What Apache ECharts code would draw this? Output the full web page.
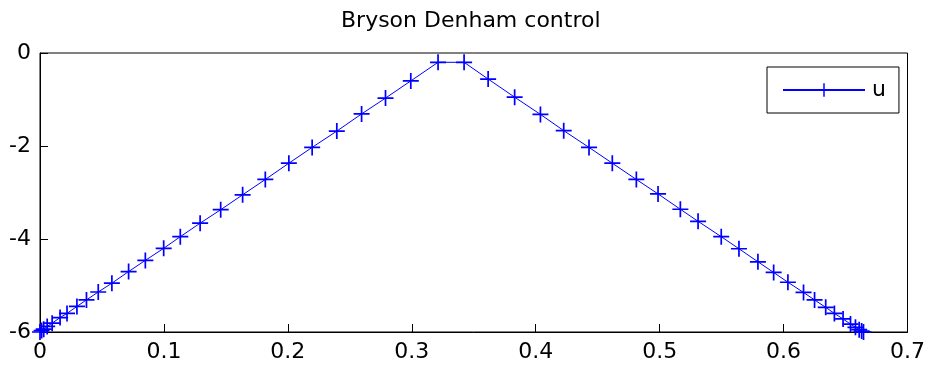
<!DOCTYPE html>
<html>
<head>
<meta charset="utf-8">
<script src="https://cdn.jsdelivr.net/npm/echarts@6/dist/echarts.min.js"></script>
<style>
  html, body { margin: 0; padding: 0; background: #fff; }
  #chart { width: 928px; height: 373px; }
</style>
</head>
<body>
<div id="chart"></div>
<script>
// Bryson–Denham control history u(t) at the collocation nodes
const tNodes = [
  0, 0.0013, 0.003, 0.0058, 0.0098, 0.0162, 0.0218, 0.0298, 0.0375, 0.047,
  0.058, 0.0715, 0.085, 0.0998, 0.1132, 0.1292, 0.1458, 0.1635, 0.1818, 0.2008,
  0.2196, 0.2395, 0.2595, 0.2788, 0.2992, 0.3212,
  0.3422, 0.3616, 0.383, 0.4038, 0.4226, 0.443, 0.4618, 0.4812, 0.4987, 0.5167,
  0.531, 0.5497, 0.564, 0.5793, 0.592, 0.6035, 0.6161, 0.625, 0.634, 0.641,
  0.648, 0.654, 0.658, 0.661, 0.663, 0.6645
];
const uValues = [
  -6.0, -5.97, -5.94, -5.88, -5.81, -5.69, -5.6, -5.45, -5.31, -5.14,
  -4.95, -4.7, -4.46, -4.2, -3.95, -3.66, -3.37, -3.05, -2.72, -2.37,
  -2.03, -1.68, -1.31, -0.97, -0.6, -0.2,
  -0.2, -0.56, -0.95, -1.32, -1.67, -2.03, -2.37, -2.72, -3.03, -3.36,
  -3.62, -3.95, -4.21, -4.49, -4.72, -4.93, -5.15, -5.31, -5.47, -5.6,
  -5.72, -5.83, -5.9, -5.95, -5.98, -6.0
];
const xTicks = { min: 0, max: 0.7, step: 0.1 };
const yTicks = { min: -6, max: 0, step: 2 };
const seriesName = 'u';
const titleText = 'Bryson Denham control';

const FONT = 'DejaVu Sans';
// "+" marker drawn as a filled cross outline
const plusPath = 'path://M-0.75,-7 H0.75 V-0.75 H7 V0.75 H0.75 V7 H-0.75 V0.75 H-7 V-0.75 H-0.75 Z';

const chart = echarts.init(document.getElementById('chart'), null, { renderer: 'canvas' });
chart.setOption({
  animation: false,
  backgroundColor: '#fff',
  title: {
    text: titleText,
    left: 341,
    top: 10,
    padding: 0,
    textStyle: { fontFamily: FONT, fontSize: 22, fontWeight: 'normal', color: '#000' }
  },
  // boxed plot area, 868 x 279 so every tick lands on a whole pixel
  grid: {
    left: 40, right: 20, top: 53, bottom: 41, containLabel: false,
    show: true, borderColor: '#000', borderWidth: 1, backgroundColor: 'transparent'
  },
  legend: {
    data: [seriesName],
    left: 767,
    top: 67,
    orient: 'vertical',
    backgroundColor: '#fff',
    borderColor: '#000',
    borderWidth: 1,
    borderRadius: 0,
    padding: [12, 13, 12, 15],
    itemWidth: 82,
    itemHeight: 17,
    textStyle: { fontFamily: FONT, fontSize: 22, color: '#000', padding: [0, 0, 0, 2] }
  },
  xAxis: {
    type: 'value', min: xTicks.min, max: xTicks.max, interval: xTicks.step,
    axisLine: { show: true, onZero: false, lineStyle: { color: '#000', width: 1 } },
    axisTick: { show: true, inside: true, length: 8, lineStyle: { color: '#000', width: 1 } },
    splitLine: { show: false },
    axisLabel: { fontFamily: FONT, fontSize: 22, color: '#000', margin: 9,
      formatter: v => String(Math.round(v * 10) / 10) }
  },
  yAxis: {
    type: 'value', min: yTicks.min, max: yTicks.max, interval: yTicks.step,
    axisLine: { show: true, onZero: false, lineStyle: { color: '#000', width: 1 } },
    axisTick: { show: true, inside: true, length: 8, lineStyle: { color: '#000', width: 1 } },
    splitLine: { show: false },
    axisLabel: { fontFamily: FONT, fontSize: 22, color: '#000', margin: 9 }
  },
  series: [{
    name: seriesName,
    type: 'line',
    data: tNodes.map((t, i) => [t, uValues[i]]),
    symbol: plusPath,
    symbolSize: 16,
    showAllSymbol: true,
    clip: false,
    color: '#0000ff',
    lineStyle: { color: '#0000ff', width: 1 },
    itemStyle: { color: '#0000ff' }
  }]
});
</script>
</body>
</html>
